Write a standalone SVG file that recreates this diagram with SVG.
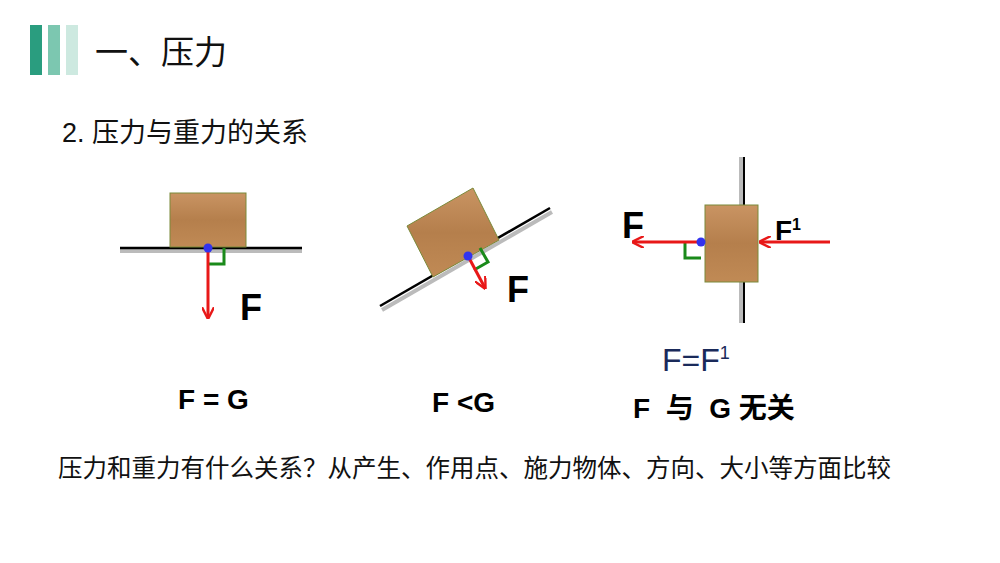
<svg xmlns="http://www.w3.org/2000/svg" width="1000" height="563" viewBox="0 0 1000 563">
<style>
.t{font-family:"Liberation Sans","Noto Sans CJK SC",sans-serif;fill:#111}
.b{font-family:"Liberation Sans","Noto Sans CJK SC",sans-serif;font-weight:bold;fill:#000}
.red{stroke:#e81818;stroke-width:3;fill:none}
.g{stroke:#1a8a1a;stroke-width:3;fill:none}
.wood{fill:url(#w);stroke:#7a8a3a;stroke-width:1}
</style>
<defs>
<linearGradient id="w" x1="0" y1="0" x2="0" y2="1">
<stop offset="0" stop-color="#c99463"/><stop offset="0.5" stop-color="#b57f4c"/><stop offset="1" stop-color="#c08a55"/>
</linearGradient>
<marker id="a" viewBox="0 0 10 10" refX="9" refY="5" markerWidth="4" markerHeight="4" orient="auto"><path d="M0,0 L10,5 L0,10" fill="none" stroke="#e81818" stroke-width="2"/></marker>
</defs>
<rect width="1000" height="563" fill="#fff"/>
<rect x="30" y="25" width="12" height="50" fill="#2a9d7f"/>
<rect x="48" y="25" width="12" height="50" fill="#7cc7b0"/>
<rect x="66" y="25" width="12" height="50" fill="#cde9e0"/>
<text class="t" x="95" y="64" font-size="33">一、压力</text>
<text class="t" x="62" y="142" font-size="27">2. 压力与重力的关系</text>
<g id="flat">
<rect x="120" y="249" width="182" height="4" fill="#bbb"/>
<line x1="120" y1="248" x2="302" y2="248" stroke="#000" stroke-width="2.5"/>
<rect class="wood" x="170" y="193" width="76" height="54"/>
<polyline class="g" points="224,248 224,264 208,264"/>
<line class="red" x1="208" y1="248" x2="208" y2="318" marker-end="url(#a)"/>
<circle cx="208" cy="248" r="4.5" fill="#3333ee"/>
<text class="b" x="240" y="320" font-size="36">F</text>
</g>
<g id="incline">
<line x1="382" y1="310" x2="552" y2="212" stroke="#bbb" stroke-width="4"/>
<line x1="380" y1="306" x2="550" y2="208" stroke="#000" stroke-width="2.5"/>
<polygon class="wood" points="407,226 473,188 499,240 433,277"/>
<polyline class="g" points="480,248 488,262 474,270"/>
<line class="red" x1="468" y1="256" x2="485" y2="288" marker-end="url(#a)"/>
<circle cx="468" cy="256" r="4.5" fill="#3333ee"/>
<text class="b" x="507" y="302" font-size="36">F</text>
</g>
<g id="wall">
<rect x="739" y="157" width="4" height="166" fill="#bbb"/>
<line x1="744" y1="157" x2="744" y2="323" stroke="#000" stroke-width="2"/>
<rect class="wood" x="705" y="205" width="53" height="77"/>
<polyline class="g" points="685,242 685,258 701,258"/>
<line class="red" x1="701" y1="242" x2="633" y2="242" marker-end="url(#a)"/>
<line class="red" x1="830" y1="242" x2="760" y2="242" marker-end="url(#a)"/>
<circle cx="701" cy="242" r="4.5" fill="#3333ee"/>
<text class="b" x="622" y="238" font-size="36">F</text>
<text class="b" x="775" y="240" font-size="28">F<tspan font-size="16" dy="-10">1</tspan></text>
</g>
<text x="662" y="371" font-size="32" fill="#1a2a5a" font-family="Liberation Sans,sans-serif">F=F<tspan font-size="18" dy="-12">1</tspan></text>
<text class="b" x="178" y="409" font-size="28">F = G</text>
<text class="b" x="432" y="412" font-size="28">F &lt;G</text>
<text class="b" x="633" y="418" font-size="28" xml:space="preserve">F  与  G 无关</text>
<text class="t" x="58" y="477" font-size="24.5">压力和重力有什么关系？从产生、作用点、施力物体、方向、大小等方面比较</text>
</svg>
